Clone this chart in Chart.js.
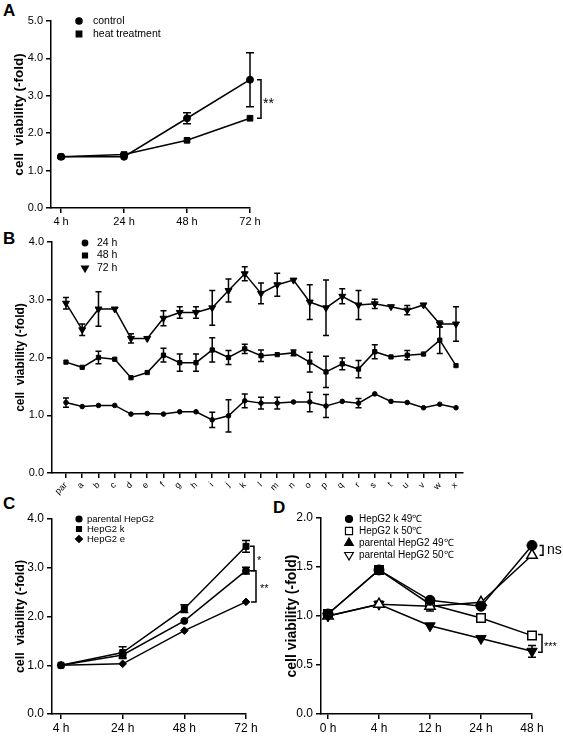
<!DOCTYPE html>
<html>
<head>
<meta charset="utf-8">
<script src="https://cdn.jsdelivr.net/npm/chart.js@4.4.1/dist/chart.umd.min.js"></script>
<style>
    body { margin: 0; background: #fff; }
    #figura { position: relative; width: 563px; height: 736px; font-family: "Liberation Sans", Arial, sans-serif; }
    canvas { position: absolute; }
    .letra { position: absolute; font-weight: bold; font-size: 17px; line-height: 17px; }
</style>
</head>
<body>
<div id="figura">
    <div class="letra" style="left:3px;top:2px">A</div>
    <div class="letra" style="left:3px;top:230px">B</div>
    <div class="letra" style="left:3px;top:495px">C</div>
    <div class="letra" style="left:273px;top:499px">D</div>
    <canvas id="painelA" width="290" height="225" style="left:0;top:0"></canvas>
    <canvas id="painelB" width="563" height="280" style="left:0;top:225px"></canvas>
    <canvas id="painelC" width="276" height="231" style="left:0;top:505px"></canvas>
    <canvas id="painelD" width="287" height="231" style="left:276px;top:505px"></canvas>
</div>
<script>
// Painel A - viabilidade após tratamento térmico
const horasA = ['4 h', '24 h', '48 h', '72 h'];
const seriesA = ['control', 'heat treatment'];
const controlo = [1.37, 1.37, 2.40, 3.43];
const controloErro = [0.03, 0, 0.15, 0.72];
const calor = [1.37, 1.43, 1.81, 2.40];
const calorErro = [0, 0.03, 0, 0];

// Painel B - clones
const clones = ['par', 'a', 'b', 'c', 'd', 'e', 'f', 'g', 'h', 'i', 'j', 'k', 'l', 'm',
    'n', 'o', 'p', 'q', 'r', 's', 't', 'u', 'v', 'w', 'x'];
const seriesB = ['24 h', '48 h', '72 h'];
const v24 = [1.22, 1.15, 1.17, 1.17, 1.02, 1.03, 1.02, 1.06, 1.06, 0.92, 0.99, 1.25, 1.21, 1.21,
    1.23, 1.23, 1.16, 1.24, 1.21, 1.37, 1.24, 1.22, 1.13, 1.19, 1.13];
const e24 = [0.08, 0, 0, 0, 0, 0, 0, 0, 0, 0.13, 0.28, 0.12, 0.1, 0.1,
    0, 0.17, 0.2, 0, 0.08, 0, 0, 0, 0, 0, 0];
const v48 = [1.92, 1.83, 2.00, 1.97, 1.65, 1.74, 2.04, 1.91, 1.91, 2.13, 2.00, 2.15, 2.03, 2.05,
    2.08, 1.92, 1.75, 1.89, 1.80, 2.10, 2.01, 2.04, 2.06, 2.30, 1.86];
const e48 = [0, 0, 0.11, 0, 0, 0, 0.12, 0.15, 0.15, 0.21, 0.12, 0.08, 0.1, 0,
    0.05, 0.17, 0.27, 0.1, 0.15, 0.12, 0, 0.08, 0, 0.23, 0];
const v72 = [2.94, 2.48, 2.84, 2.84, 2.33, 2.33, 2.68, 2.78, 2.78, 2.86, 3.16, 3.45, 3.11, 3.26,
    3.34, 2.96, 2.86, 3.06, 2.91, 2.93, 2.88, 2.82, 2.91, 2.58, 2.58];
const e72 = [0.1, 0.1, 0.3, 0, 0.08, 0, 0.13, 0.1, 0.1, 0.3, 0.2, 0.12, 0.18, 0.2,
    0, 0.3, 0.48, 0.13, 0.25, 0.08, 0, 0.08, 0, 0.05, 0.3];

// Painel C - linhas celulares
const horasC = ['4 h', '24 h', '48 h', '72 h'];
const seriesC = ['parental HepG2', 'HepG2 k', 'HepG2 e'];
const parental = [1.00, 1.21, 1.91, 2.94];
const parentalErro = [0, 0.05, 0, 0.07];
const hepK = [1.00, 1.26, 2.16, 3.44];
const hepKErro = [0, 0.12, 0.08, 0.12];
const hepE = [1.00, 1.03, 1.71, 2.30];
const hepEErro = [0, 0, 0, 0];

// Painel D - temperaturas
const horasD = ['0 h', '4 h', '12 h', '24 h', '48 h'];
const seriesD = ['HepG2 k 49℃', 'HepG2 k 50℃', 'parental HepG2 49℃', 'parental HepG2 50℃'];
const k49 = [1.02, 1.47, 1.16, 1.10, 1.72];
const k49Erro = [0.03, 0, 0.03, 0, 0.03];
const k50 = [1.02, 1.47, 1.12, 0.98, 0.80];
const k50Erro = [0, 0, 0, 0, 0.03];
const p49 = [1.00, 1.12, 1.10, 1.14, 1.62];
const p49Erro = [0, 0.03, 0.05, 0, 0];
const p50 = [1.00, 1.12, 0.90, 0.77, 0.64];
const p50Erro = [0, 0, 0, 0, 0.06];

const FONTE = '"Liberation Sans", Arial, sans-serif';
Chart.defaults.font.family = FONTE;
Chart.defaults.color = '#000';

// Barras de erro desenhadas a partir de dataset.erros
const barrasErro = {
    id: 'barrasErro',
    beforeDatasetsDraw(chart, args, opts) {
        const { ctx, scales: { x, y } } = chart;
        ctx.save();
        ctx.strokeStyle = '#000';
        ctx.lineWidth = 1.5;
        chart.data.datasets.forEach(ds => {
            if (!ds.erros) return;
            ds.data.forEach((p, i) => {
                const e = ds.erros[i];
                if (!e) return;
                const px = x.getPixelForValue(p.x);
                const topo = y.getPixelForValue(p.y + e);
                const base = y.getPixelForValue(p.y - e);
                ctx.beginPath();
                ctx.moveTo(px, topo); ctx.lineTo(px, base);
                ctx.moveTo(px - opts.cap, topo); ctx.lineTo(px + opts.cap, topo);
                ctx.moveTo(px - opts.cap, base); ctx.lineTo(px + opts.cap, base);
                ctx.stroke();
            });
        });
        ctx.restore();
    }
};

// Chavetas de significância (**, ns ...)
const chavetas = {
    id: 'chavetas',
    afterDraw(chart, args, opts) {
        if (!opts.items) return;
        const { ctx, scales: { x, y } } = chart;
        ctx.save();
        ctx.strokeStyle = '#000';
        ctx.fillStyle = '#000';
        ctx.lineWidth = 1.5;
        ctx.textBaseline = 'alphabetic';
        opts.items.forEach(b => {
            const x0 = x.getPixelForValue(b.x) + b.dx;
            const y1 = y.getPixelForValue(b.de);
            const y2 = y.getPixelForValue(b.ate);
            ctx.beginPath();
            ctx.moveTo(x0 - b.len, y1); ctx.lineTo(x0, y1);
            ctx.lineTo(x0, y2); ctx.lineTo(x0 - b.len, y2);
            ctx.stroke();
            ctx.font = b.size + 'px ' + FONTE;
            ctx.fillText(b.texto, x0 + b.tx, (y1 + y2) / 2 + b.ty);
        });
        ctx.restore();
    }
};

// Legenda simples dentro do gráfico
const legendaMini = {
    id: 'legendaMini',
    afterDraw(chart, args, opts) {
        if (!opts.items) return;
        const ctx = chart.ctx;
        ctx.save();
        ctx.font = opts.size + 'px ' + FONTE;
        ctx.textBaseline = 'middle';
        opts.items.forEach((item, i) => {
            const y = opts.y + i * opts.dy;
            ctx.fillStyle = item.aberto ? '#fff' : '#000';
            ctx.strokeStyle = '#000';
            ctx.lineWidth = 1.2;
            Chart.helpers.drawPoint(ctx, {
                pointStyle: item.estilo, radius: item.raio, rotation: item.rot || 0, borderWidth: 1.2
            }, opts.x, y);
            ctx.fillStyle = '#000';
            ctx.fillText(item.nome, opts.textoX, y);
        });
        ctx.restore();
    }
};

function pontos(valores) {
    return valores.map((v, i) => ({ x: i, y: v }));
}

function serie(nome, valores, erros, estilo) {
    return Object.assign({
        label: nome,
        data: pontos(valores),
        erros: erros,
        borderColor: '#000',
        borderWidth: 1.5,
        pointBorderColor: '#000',
        pointBackgroundColor: '#000',
        pointBorderWidth: 1,
        tension: 0,
        fill: false,
        clip: false // não cortar os marcadores na borda
    }, estilo);
}

// Cria um painel com a área do gráfico numa posição fixa
function criarPainel(id, cfg) {
    const canvas = document.getElementById(id);
    const W = canvas.width, H = canvas.height;
    const a = cfg.area;
    const grelha = { drawOnChartArea: false, drawTicks: true, tickLength: 5, color: '#000', lineWidth: 1.5 };
    const borda = { color: '#000', width: 1.5 };
    return new Chart(canvas, {
        type: 'line',
        data: { datasets: cfg.datasets },
        plugins: [barrasErro, chavetas, legendaMini],
        options: {
            responsive: false,
            animation: false,
            events: [],
            layout: { padding: { left: 0, top: a.top, right: W - a.right, bottom: 0 } },
            plugins: {
                legend: { display: false },
                tooltip: { enabled: false },
                barrasErro: { cap: cfg.cap },
                chavetas: { items: cfg.chavetas || [] },
                legendaMini: cfg.legenda
            },
            scales: {
                x: {
                    type: 'linear',
                    min: cfg.xMin,
                    max: cfg.xMax,
                    afterBuildTicks: s => { s.ticks = cfg.labels.map((l, i) => ({ value: i })); },
                    afterFit: s => { s.height = H - a.bottom; },
                    ticks: {
                        autoSkip: false,
                        callback: v => cfg.labels[v],
                        font: { size: cfg.xFonte },
                        color: '#000',
                        maxRotation: cfg.rot || 0,
                        minRotation: cfg.rot || 0,
                        padding: 2
                    },
                    grid: grelha,
                    border: borda
                },
                y: {
                    min: 0,
                    max: cfg.yMax,
                    afterFit: s => { s.width = a.left; },
                    ticks: {
                        stepSize: cfg.yPasso,
                        callback: v => v.toFixed(1),
                        font: { size: cfg.yFonte },
                        color: '#000',
                        padding: 3
                    },
                    title: {
                        display: true,
                        text: cfg.titulo,
                        font: { size: cfg.tFonte, weight: 'bold' },
                        color: '#000',
                        padding: { top: cfg.tPad, bottom: 0 }
                    },
                    grid: grelha,
                    border: borda
                }
            }
        }
    });
}

// Painel A
criarPainel('painelA', {
    area: { left: 51, top: 21, right: 250, bottom: 208 },
    labels: horasA, xMin: -0.16, xMax: 3, xFonte: 11,
    yMax: 5, yPasso: 1, yFonte: 11,
    titulo: 'cell  viability (-fold)', tFonte: 13.5, tPad: 11,
    cap: 4,
    datasets: [
        serie(seriesA[0], controlo, controloErro, { pointStyle: 'circle', pointRadius: 3.5 }),
        serie(seriesA[1], calor, calorErro, { pointStyle: 'rect', pointRadius: 4 })
    ],
    chavetas: [{ x: 3, dx: 11, len: 4, de: 3.43, ate: 2.40, texto: '**', size: 14, tx: 2, ty: 9 }],
    legenda: {
        x: 79, textoX: 93, y: 21, dy: 13, size: 10.5,
        items: [
            { nome: seriesA[0], estilo: 'circle', raio: 3.2 },
            { nome: seriesA[1], estilo: 'rect', raio: 4 }
        ]
    }
});

// Painel B
criarPainel('painelB', {
    area: { left: 52, top: 17, right: 463, bottom: 248 },
    labels: clones, xMin: -0.86, xMax: 24.43, xFonte: 9, rot: 45,
    yMax: 4, yPasso: 1, yFonte: 11,
    titulo: 'cell  viability (-fold)', tFonte: 12, tPad: 13,
    cap: 3,
    datasets: [
        serie(seriesB[0], v24, e24, { pointStyle: 'circle', pointRadius: 2.3 }),
        serie(seriesB[1], v48, e48, { pointStyle: 'rect', pointRadius: 3 }),
        serie(seriesB[2], v72, e72, { pointStyle: 'triangle', pointRadius: 4, pointRotation: 180 })
    ],
    legenda: {
        x: 85, textoX: 97, y: 18, dy: 12.5, size: 10.5,
        items: [
            { nome: seriesB[0], estilo: 'circle', raio: 2.8 },
            { nome: seriesB[1], estilo: 'rect', raio: 3.5 },
            { nome: seriesB[2], estilo: 'triangle', raio: 4, rot: 180 }
        ]
    }
});

// Painel C
criarPainel('painelC', {
    area: { left: 52, top: 14, right: 246, bottom: 209 },
    labels: horasC, xMin: -0.146, xMax: 3, xFonte: 12,
    yMax: 4, yPasso: 1, yFonte: 12,
    titulo: 'cell  viability (-fold)', tFonte: 12.5, tPad: 13,
    cap: 4,
    datasets: [
        serie(seriesC[0], parental, parentalErro, { pointStyle: 'circle', pointRadius: 3.5 }),
        serie(seriesC[1], hepK, hepKErro, { pointStyle: 'rect', pointRadius: 4.2 }),
        serie(seriesC[2], hepE, hepEErro, { pointStyle: 'rectRot', pointRadius: 3.8 })
    ],
    chavetas: [
        { x: 3, dx: 8, len: 4, de: 3.44, ate: 2.94, texto: '*', size: 11, tx: 3, ty: 6 },
        { x: 3, dx: 10, len: 5, de: 2.94, ate: 2.30, texto: '**', size: 11, tx: 4, ty: 6 }
    ],
    legenda: {
        x: 79, textoX: 87, y: 14, dy: 10, size: 9.5,
        items: [
            { nome: seriesC[0], estilo: 'circle', raio: 3 },
            { nome: seriesC[1], estilo: 'rect', raio: 3.5 },
            { nome: seriesC[2], estilo: 'rectRot', raio: 3.5 }
        ]
    }
});

// Painel D
criarPainel('painelD', {
    area: { left: 45, top: 13, right: 256, bottom: 209 },
    labels: horasD, xMin: -0.137, xMax: 4, xFonte: 12,
    yMax: 2, yPasso: 0.5, yFonte: 12,
    titulo: 'cell viability (-fold)', tFonte: 14, tPad: 7.5,
    cap: 4,
    datasets: [
        serie(seriesD[0], k49, k49Erro, { pointStyle: 'circle', pointRadius: 5 }),
        serie(seriesD[2], p49, p49Erro, { pointStyle: 'triangle', pointRadius: 6, pointBackgroundColor: '#fff', pointBorderWidth: 1.5 }),
        serie(seriesD[3], p50, p50Erro, { pointStyle: 'triangle', pointRadius: 6, pointRotation: 180 }),
        serie(seriesD[1], k50, k50Erro, { pointStyle: 'rect', pointRadius: 6, pointBackgroundColor: '#fff', pointBorderWidth: 1.5 })
    ],
    chavetas: [
        { x: 4, dx: 11, len: 3.5, de: 1.72, ate: 1.62, texto: 'ns', size: 14, tx: 4, ty: 4 },
        { x: 4, dx: 10, len: 4, de: 0.81, ate: 0.63, texto: '***', size: 11, tx: 2, ty: 7 }
    ],
    legenda: {
        x: 73, textoX: 83, y: 14, dy: 12, size: 10,
        items: [
            { nome: seriesD[0], estilo: 'circle', raio: 3.5 },
            { nome: seriesD[1], estilo: 'rect', raio: 5, aberto: true },
            { nome: seriesD[2], estilo: 'triangle', raio: 5 },
            { nome: seriesD[3], estilo: 'triangle', raio: 5, rot: 180, aberto: true }
        ]
    }
});
</script>
</body>
</html>
